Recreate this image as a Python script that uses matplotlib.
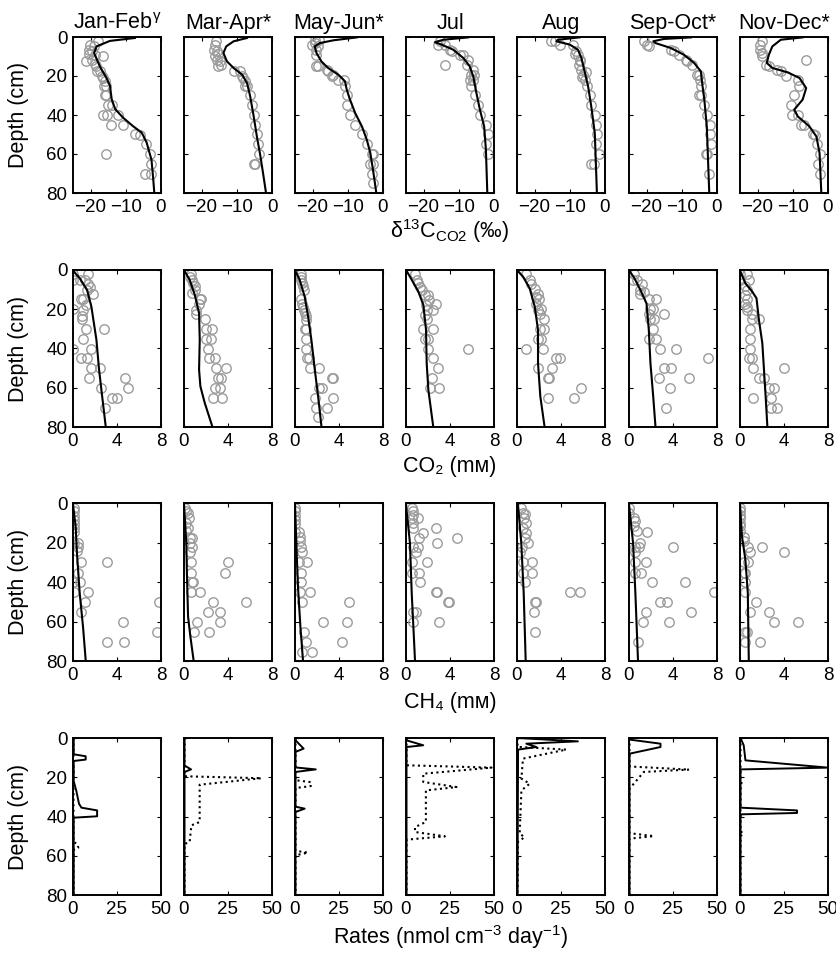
import numpy as np
import matplotlib
matplotlib.use("Agg")
import matplotlib.pyplot as plt

plt.rcParams['font.family'] = ['Liberation Sans', 'DejaVu Sans']
plt.rcParams['mathtext.fontset'] = 'custom'
plt.rcParams['mathtext.rm'] = 'Liberation Sans'
plt.rcParams['mathtext.it'] = 'Liberation Sans:italic'
plt.rcParams['mathtext.bf'] = 'Liberation Sans:bold'

months = [r"Jan-Feb$^{\mathrm{\gamma}}$", "Mar-Apr*", "May-Jun*", "Jul", "Aug", "Sep-Oct*", "Nov-Dec*"]

# ---- delta13C-CO2 (permil): observations and model, per month ----
d13c_obs_depth = [
    [2.2, 4.3, 4.4, 6.5, 7.4, 8.6, 9.1, 12.1, 11.6, 9.6, 13.9, 15.0, 17.3, 17.6, 19.8, 21.0, 22.7, 25.0, 25.3, 29.6, 29.6, 34.7, 34.7, 39.8, 39.8, 40.2, 45.0, 45.0, 49.8, 50.1, 54.9, 60.0, 65.2, 70.1, 70.1, 60.0],
    [2.2, 4.3, 6.8, 7.4, 9.6, 8.6, 11.6, 12.5, 14.2, 14.7, 17.3, 17.3, 19.8, 21.0, 22.7, 25.0, 25.0, 29.6, 34.7, 39.8, 45.0, 49.8, 54.9, 60.0, 65.2, 65.2],
    [1.7, 1.7, 4.3, 3.1, 4.8, 6.5, 9.1, 14.7, 15.0, 16.8, 17.3, 19.3, 20.2, 21.9, 21.9, 25.0, 29.6, 34.7, 39.8, 45.0, 49.8, 54.9, 60.0, 60.0, 65.2, 65.2, 70.1, 74.9],
    [2.2, 4.3, 4.3, 6.5, 7.4, 9.1, 9.1, 11.6, 14.5, 14.2, 16.8, 19.3, 19.3, 21.9, 21.9, 25.0, 29.6, 34.7, 39.8, 45.0, 49.8, 54.9, 60.0],
    [2.2, 2.2, 4.3, 4.3, 7.4, 9.1, 11.6, 14.2, 16.8, 19.3, 21.9, 25.0, 29.6, 34.7, 39.8, 45.0, 49.8, 54.9, 60.0, 65.2, 65.2, 8.5, 12.5, 18.0, 20.5],
    [2.2, 4.3, 4.8, 6.5, 7.4, 9.4, 11.6, 12.5, 14.2, 19.3, 19.3, 21.9, 25.0, 29.6, 29.6, 34.7, 39.8, 45.0, 49.8, 54.9, 60.0, 60.0, 70.1],
    [2.2, 4.3, 6.5, 8.2, 9.6, 14.2, 14.7, 16.8, 17.3, 19.8, 21.9, 25.0, 12.0, 29.6, 34.7, 39.8, 39.8, 45.0, 45.0, 49.8, 50.1, 54.9, 60.0, 65.2, 70.1],
]
d13c_obs_val = [
    [-17.9, -20.2, -19.0, -20.4, -19.6, -20.4, -18.8, -21.2, -19.5, -16.4, -18.8, -18.5, -18.1, -17.4, -16.9, -16.4, -16.0, -15.5, -16.3, -16.0, -15.5, -13.8, -15.0, -16.6, -15.3, -12.2, -14.1, -10.9, -7.4, -6.0, -4.3, -3.1, -2.8, -2.9, -4.6, -15.5],
    [-15.9, -16.2, -16.6, -15.7, -16.2, -15.2, -15.7, -14.7, -14.4, -15.2, -10.9, -9.0, -8.5, -8.3, -7.8, -7.6, -7.1, -6.2, -5.7, -5.2, -4.9, -4.3, -4.1, -3.8, -5.2, -4.7],
    [-19.4, -18.1, -20.3, -19.4, -18.4, -18.9, -18.9, -19.1, -18.4, -16.0, -15.6, -14.1, -14.6, -12.7, -11.0, -10.8, -10.3, -10.3, -9.5, -7.9, -6.0, -4.6, -3.2, -2.7, -3.8, -2.9, -3.2, -2.7],
    [-15.3, -15.8, -13.9, -12.5, -12.0, -9.7, -8.7, -7.3, -13.9, -7.8, -5.9, -6.4, -5.6, -6.9, -5.9, -6.4, -5.4, -4.5, -4.0, -2.3, -1.8, -2.3, -1.8],
    [-15.2, -14.3, -12.9, -9.1, -8.1, -7.7, -7.2, -7.4, -6.7, -6.2, -5.8, -5.0, -4.4, -3.9, -2.9, -2.5, -2.3, -2.6, -1.7, -3.9, -3.2, -8.5, -7.0, -5.5, -6.5],
    [-20.8, -19.8, -19.4, -13.2, -12.2, -10.8, -8.9, -8.4, -7.0, -5.7, -5.1, -4.8, -4.6, -5.1, -4.6, -3.8, -2.9, -1.9, -1.9, -1.7, -3.2, -2.9, -2.2],
    [-18.7, -19.2, -19.2, -18.7, -18.7, -17.7, -16.8, -14.4, -13.4, -12.0, -8.6, -8.1, -6.2, -9.6, -10.5, -10.1, -8.6, -7.7, -6.9, -4.3, -3.6, -3.1, -2.4, -2.7, -2.4],
]
d13c_fit_depth = [
    [0.5, 2, 4.8, 8.2, 15, 21, 25, 32, 37, 41.5, 45.8, 49, 54, 63, 73, 80],
    [0.5, 2.2, 4.8, 8.2, 12.5, 15.9, 19.3, 23.6, 30.4, 40.7, 51, 61, 71.5, 80],
    [0.2, 1.7, 3.1, 4.8, 8.2, 12.5, 15.9, 19.3, 22.7, 27, 32, 39, 45.8, 52.7, 59.5, 69.8, 80],
    [0.2, 1.4, 2.7, 3.9, 6.5, 10.8, 15, 20.2, 28.7, 37.3, 45.8, 57.8, 80],
    [0.2, 1.4, 2.2, 3.9, 6.5, 10.8, 17.6, 25.3, 35.6, 49.2, 80],
    [0.2, 1.0, 2.2, 3.1, 5.6, 9.1, 13.3, 17.6, 25.3, 32.1, 45.8, 80],
    [0.2, 1.4, 4.8, 9.1, 13.3, 15.9, 18.1, 21, 26.2, 32.1, 37.3, 40.7, 45.8, 51, 59.5, 80],
]
d13c_fit_val = [
    [-7.4, -14.5, -18.3, -19, -17.4, -15.5, -14.5, -14, -13, -10.7, -7.9, -5.5, -4.1, -2.7, -2.2, -1.9],
    [-7.1, -10.9, -13, -13.8, -12.8, -10.9, -8.5, -7.1, -6.2, -5.2, -4.3, -3.3, -2.4, -1.7],
    [-7.4, -14.1, -17.9, -19.4, -18.9, -17.5, -15.6, -12.7, -10.8, -10.3, -9.4, -7.9, -6.0, -4.6, -3.6, -2.7, -1.9],
    [-7.3, -14.4, -16.8, -14.9, -11.6, -8.7, -6.9, -5.9, -5.0, -4.0, -2.8, -2.3, -1.9],
    [-7.2, -13.4, -13.8, -10, -7.7, -6.7, -5.8, -4.8, -3.9, -2.9, -2.3],
    [-7.4, -15.1, -18.1, -17.5, -13.2, -9.4, -6.5, -4.6, -4.1, -3.6, -2.9, -2.2],
    [-7.2, -13.4, -15.8, -16.8, -17.4, -15.8, -11.5, -8.1, -6.2, -7.2, -9.6, -8.6, -5.3, -3.3, -2.4, -1.9],
]

# ---- CO2 (mM) ----
co2_obs_depth = [
    [2.2, 2.2, 5.1, 5.1, 5.1, 7.3, 8.5, 10.2, 12.4, 14.9, 14.9, 20.0, 17.8, 20.3, 23.4, 25.1, 30.2, 30.2, 35.1, 40.2, 40.2, 44.9, 44.9, 50.0, 50.0, 55.1, 55.1, 60.2, 60.2, 65.3, 65.3, 70.3],
    [2.2, 3.4, 5.1, 6.8, 8.1, 10.2, 11.9, 14.9, 14.9, 17.3, 20.3, 22.4, 25.1, 30.2, 30.2, 35.1, 35.1, 40.2, 44.9, 44.9, 50.0, 50.0, 55.1, 55.1, 60.2, 60.2, 65.3, 65.3],
    [2.2, 3.4, 5.1, 6.8, 8.1, 10.2, 14.9, 17.3, 18.6, 20.3, 21.7, 23.4, 25.4, 30.2, 30.2, 35.1, 40.2, 44.9, 44.9, 50.0, 50.0, 55.1, 55.1, 60.2, 60.2, 65.3, 65.3, 70.3, 70.3, 75.1],
    [2.2, 5.1, 6.8, 8.5, 10.2, 12.7, 12.7, 15.3, 17.3, 17.8, 20.3, 20.3, 22.9, 25.1, 30.2, 30.2, 35.1, 35.1, 40.2, 40.2, 44.9, 50.0, 55.1, 60.2, 60.2],
    [2.2, 5.1, 7.3, 9.8, 12.4, 13.6, 14.9, 17.3, 20.0, 20.3, 22.4, 25.1, 30.2, 30.2, 35.1, 35.1, 40.2, 40.2, 44.9, 44.9, 50.0, 50.0, 55.1, 55.1, 60.2, 65.3, 65.3],
    [2.2, 5.1, 5.1, 7.3, 10.2, 11.0, 12.4, 14.9, 14.9, 20.0, 20.0, 22.4, 22.4, 25.1, 25.1, 30.2, 35.1, 35.1, 40.2, 40.2, 44.9, 50.0, 50.0, 55.1, 55.1, 60.2, 70.3],
    [2.2, 2.2, 5.1, 5.1, 8.1, 10.2, 12.7, 14.9, 17.3, 18.6, 20.3, 22.4, 25.1, 25.1, 30.2, 35.1, 40.2, 44.9, 44.9, 50.0, 50.0, 55.1, 55.1, 60.2, 60.2, 65.3, 65.3, 70.3, 70.3],
]
co2_obs_val = [
    [1.37, 0.0, 0.0, 0.61, 1.06, 1.37, 1.52, 1.28, 1.82, 0.91, 0.76, 0.0, 1.22, 0.91, 0.85, 0.85, 1.22, 2.83, 0.91, 1.67, 0.0, 0.76, 1.28, 1.61, 2.43, 1.46, 4.71, 5.02, 2.52, 3.59, 4.01, 2.89],
    [0.67, 0.58, 0.76, 0.82, 0.98, 0.98, 0.76, 1.59, 1.43, 1.37, 1.07, 1.13, 1.89, 1.98, 2.56, 2.04, 2.50, 2.20, 2.29, 2.81, 2.90, 3.81, 3.11, 3.32, 2.81, 3.26, 2.65, 3.42],
    [0.58, 0.52, 0.58, 0.67, 0.73, 0.79, 0.58, 0.67, 0.73, 0.79, 0.88, 0.98, 0.98, 0.88, 1.04, 0.98, 0.98, 1.10, 1.28, 1.34, 2.20, 3.32, 3.48, 2.20, 2.41, 1.80, 3.42, 1.95, 2.93, 2.10],
    [0.82, 0.97, 1.12, 1.27, 1.42, 1.73, 2.03, 2.12, 2.73, 1.82, 1.94, 2.42, 1.73, 1.88, 1.58, 2.42, 1.73, 2.03, 2.03, 5.67, 2.48, 2.94, 2.33, 2.18, 3.03],
    [0.79, 1.21, 1.30, 1.61, 1.91, 1.76, 2.00, 1.70, 2.21, 1.91, 2.06, 2.42, 2.12, 2.42, 2.21, 1.91, 2.36, 0.85, 3.58, 3.88, 3.21, 1.91, 2.82, 2.91, 5.85, 2.82, 5.15],
    [0.49, 0.37, 0.73, 1.19, 0.98, 1.34, 1.04, 1.80, 2.41, 1.89, 2.20, 1.80, 3.17, 1.95, 2.26, 2.20, 1.80, 2.41, 2.81, 4.24, 7.14, 3.17, 3.78, 2.71, 5.46, 3.72, 3.32],
    [0.03, 0.64, 0.0, 0.80, 0.49, 0.64, 0.49, 0.64, 0.49, 0.64, 0.64, 1.11, 1.72, 1.11, 0.95, 0.89, 0.95, 0.80, 1.11, 1.20, 3.96, 1.72, 2.18, 2.64, 3.10, 1.20, 2.79, 2.79, 3.35],
]
co2_fit_depth = [
    [0.3, 4.2, 10.2, 18.6, 35.6, 50.8, 61, 80],
    [0, 5.1, 12.7, 22, 35.6, 50.8, 59.3, 67.8, 80],
    [0, 5.1, 13.6, 23.7, 35.6, 50.8, 64.4, 80],
    [0, 3.4, 11, 17.8, 30.5, 47.5, 61, 80],
    [0, 3.4, 9.3, 18.6, 30.5, 47.5, 64.4, 80],
    [0, 4.2, 10.2, 17, 30.5, 47.5, 64.4, 80],
    [0.3, 6.8, 11, 14.4, 25.4, 37.3, 50.8, 64.4, 80],
]
co2_fit_val = [
    [0, 0.61, 1.28, 1.67, 2.13, 2.37, 2.58, 2.98],
    [0, 0.52, 0.98, 1.37, 1.43, 1.37, 1.49, 1.89, 2.59],
    [0, 0.43, 0.88, 1.19, 1.49, 1.80, 2.10, 2.41],
    [0, 0.36, 1.12, 1.58, 1.82, 1.88, 2.03, 2.48],
    [0, 0.55, 1.15, 1.61, 1.91, 1.91, 2.12, 2.51],
    [0, 0.49, 1.04, 1.59, 1.80, 1.95, 2.20, 2.41],
    [0, 0.49, 1.11, 1.50, 1.72, 2.03, 2.18, 2.33, 2.49],
]

# ---- CH4 (mM) ----
ch4_obs_depth = [
    [2.5, 4.2, 6.4, 8.5, 10.5, 12.7, 14.9, 20.0, 20.0, 22.3, 24.5, 30.1, 30.1, 35.2, 40.2, 40.2, 45.3, 45.3, 50.2, 55.3, 50.2, 60.0, 65.1, 70.2, 70.2],
    [2.5, 4.2, 5.1, 7.6, 10.1, 14.4, 12.7, 17.8, 17.8, 20.3, 22.3, 25.0, 30.1, 35.2, 40.2, 40.2, 45.3, 45.3, 30.1, 35.2, 50.2, 50.2, 55.3, 55.3, 60.0, 60.0, 65.1, 65.1],
    [2.5, 4.2, 6.4, 8.5, 10.5, 14.9, 14.9, 17.2, 19.4, 22.3, 25.0, 30.1, 30.1, 35.2, 40.2, 45.3, 45.3, 50.2, 60.0, 60.0, 50.2, 65.1, 70.2, 75.3, 75.3, 70.2],
    [2.5, 4.2, 5.9, 7.6, 7.6, 10.1, 12.7, 12.7, 15.2, 17.8, 20.0, 17.8, 22.3, 22.3, 25.0, 30.1, 30.1, 35.2, 35.2, 40.2, 45.3, 45.3, 50.2, 50.2, 55.3, 55.3, 60.0, 60.0],
    [2.5, 5.1, 5.4, 7.6, 10.1, 12.7, 15.2, 17.8, 20.0, 22.3, 25.0, 30.1, 30.1, 35.2, 35.2, 40.2, 45.3, 45.3, 50.2, 50.2, 55.3, 65.1],
    [2.5, 5.1, 7.6, 9.3, 11.8, 14.4, 14.9, 20.0, 22.3, 22.3, 22.3, 25.0, 30.1, 30.1, 35.2, 35.2, 40.2, 40.2, 45.3, 50.2, 50.2, 55.3, 55.3, 60.0, 60.0, 70.2],
    [2.5, 4.2, 5.9, 7.6, 10.1, 11.8, 14.4, 17.2, 19.4, 22.3, 25.0, 22.3, 25.0, 30.1, 30.1, 35.2, 35.2, 40.2, 45.3, 50.2, 55.3, 55.3, 60.0, 60.0, 65.1, 65.1, 70.2, 70.2],
]
ch4_obs_val = [
    [0.06, 0.06, 0.06, 0.06, 0.06, 0.06, 0.06, 0.06, 0.46, 0.46, 0.36, 0.76, 3.10, 0.46, 0.0, 0.67, 0.06, 1.37, 1.06, 0.76, 7.81, 4.56, 7.60, 3.10, 4.65],
    [0.06, 0.15, 0.37, 0.46, 0.21, 0.15, 0.37, 0.58, 0.76, 0.52, 0.76, 0.58, 0.67, 0.67, 0.76, 0.82, 0.67, 1.43, 4.03, 3.72, 2.65, 5.64, 2.20, 3.26, 1.22, 3.26, 0.92, 2.29],
    [0.02, 0.02, 0.02, 0.02, 0.02, 0.02, 0.37, 0.43, 0.49, 0.58, 0.67, 0.37, 1.10, 0.58, 0.58, 0.43, 1.34, 0.67, 2.56, 4.70, 4.94, 0.79, 1.04, 0.67, 1.59, 4.30],
    [0.52, 0.61, 0.67, 0.52, 1.12, 0.61, 0.67, 2.73, 1.58, 1.21, 2.79, 4.61, 0.67, 1.12, 0.91, 1.88, 0.52, 1.21, 0.52, 1.27, 2.73, 2.79, 3.85, 3.94, 0.61, 0.91, 0.61, 3.03],
    [0.39, 0.55, 0.70, 0.61, 0.79, 0.55, 0.85, 0.70, 1.00, 0.48, 0.24, 0.55, 1.39, 0.55, 1.39, 0.70, 4.79, 5.70, 1.61, 1.76, 1.52, 1.61],
    [0.0, 0.0, 0.49, 0.58, 0.43, 0.73, 1.65, 0.98, 0.58, 0.88, 4.03, 0.58, 0.58, 1.59, 0.58, 1.10, 2.10, 5.06, 7.75, 2.81, 3.42, 1.59, 5.61, 1.25, 3.66, 0.79],
    [0.03, 0.03, 0.03, 0.03, 0.03, 0.03, 0.03, 0.34, 0.40, 0.71, 0.95, 2.03, 3.96, 0.34, 0.71, 0.34, 0.49, 0.49, 0.43, 1.41, 0.89, 2.64, 3.10, 5.25, 0.49, 0.64, 0.49, 1.81],
]
ch4_fit_depth = [
    [0.8, 11.8, 25.4, 45.7, 62.6, 80],
    [0.8, 20.3, 37.2, 57.5, 67.6, 80],
    [0.8, 20.3, 42.3, 62.6, 80],
    [0.8, 20.3, 45.7, 62.6, 80],
    [0.8, 20.3, 45.7, 80],
    [0.8, 20.3, 45.7, 80],
    [0.8, 16.9, 28.7, 45.7, 80],
]
ch4_fit_val = [
    [0, 0.24, 0.36, 0.61, 0.91, 1.16],
    [0, 0.21, 0.27, 0.37, 0.58, 0.88],
    [0, 0.12, 0.27, 0.49, 0.73],
    [0, 0.36, 0.52, 0.67, 0.82],
    [0.09, 0.39, 0.61, 0.79],
    [0, 0.37, 0.58, 0.82],
    [0, 0.18, 0.49, 0.71, 0.80],
]

# ---- rates (nmol cm-3 day-1): solid and dotted profiles ----
rate_solid_depth = [
    [0, 8.3, 9.3, 11, 11.7, 22, 27, 33.5, 35.5, 36.9, 39.9, 40.6, 80],
    [0, 14, 16, 17.3, 80],
    [0, 1.2, 5.4, 7.1, 15, 16, 17.3, 35, 36, 37.7, 80],
    [0, 1.2, 3.7, 4.6, 80],
    [0, 1.7, 2.9, 4.6, 5.9, 80],
    [0, 0.8, 2.9, 4.6, 8, 80],
    [0, 3.7, 11.4, 15.1, 16, 35.5, 36.9, 38.2, 38.9, 80],
]
rate_solid_val = [
    [0.4, 0.4, 7.2, 7.2, 0.4, 0.4, 1.9, 3.4, 4.8, 13.7, 13.7, 0.4, 0.4],
    [0.3, 0.3, 4, 0.3, 0.3],
    [0.3, 0.3, 4.9, 0.3, 0.3, 11.8, 0.3, 0.3, 5.5, 0.3, 0.3],
    [0.3, 0.3, 9.8, 0.3, 0.3],
    [0.3, 34.6, 5.3, 11, 0.6, 0.3],
    [0.3, 0.3, 17.9, 17.9, 0.3, 0.3],
    [0.3, 2.1, 3.1, 50, 0.3, 0.3, 32.4, 32.4, 0.3, 0.3],
]
rate_dot_depth = [
    [0, 53, 54, 56, 57, 80],
    [0, 19.5, 20.5, 23.8, 42.8, 44.5, 53, 54, 80],
    [0, 21.5, 22.5, 24.5, 25.5, 57.5, 58.4, 59.8, 80],
    [0, 13.9, 15.1, 18.2, 22.4, 25, 26.7, 42.8, 45.4, 47.9, 50.1, 51.8, 80],
    [0, 4.5, 5.9, 10.5, 20.7, 23.3, 26.7, 48.8, 50.5, 53, 80],
    [0, 14.5, 16.1, 17.3, 23.3, 25.8, 48.5, 50, 51.3, 80],
    [0, 20, 21, 25, 26, 47.5, 48.8, 50, 80],
]
rate_dot_val = [
    [0.3, 0.3, 2.5, 3, 0.3, 0.3],
    [0.3, 0.3, 44, 8.9, 8.9, 4.2, 3.2, 0.3, 0.3],
    [0.3, 0.3, 9, 9, 0.3, 0.3, 7.4, 0.3, 0.3],
    [0.3, 0.3, 48.6, 9.8, 9.8, 28.7, 11.3, 11.3, 5.1, 5.1, 22.1, 0.3, 0.3],
    [0.3, 0.3, 28, 3.4, 2.5, 7.2, 2.5, 1.5, 4.3, 0.5, 0.3],
    [0.3, 0.3, 34.2, 8.4, 2.7, 0.3, 0.3, 14.1, 0.3, 0.3],
    [0.3, 0.3, 0.8, 0.8, 0.3, 0.3, 2, 0.3, 0.3],
]

row_xlim = [(-25, 0), (0, 8), (0, 8), (0, 50)]
row_xticks = [[-20, -10, 0], [0, 4, 8], [0, 4, 8], [0, 25, 50]]
row_labels = [r"δ$^{13}$C$_{\mathrm{CO2}}$ (‰)", "CO₂ (mᴍ)", "CH₄ (mᴍ)",
              r"Rates (nmol cm$^{-3}$ day$^{-1}$)"]

W, H = 837, 955
fig = plt.figure(figsize=(W / 100, H / 100), dpi=100)

col_left = [73, 184, 295, 406, 517, 629, 740]
col_w = 88
row_box = [(37, 193), (270, 427), (503, 661), (738, 895)]
label_y = [238, 472, 708, 944]

obs_style = dict(ls='none', marker='o', ms=6.8, mfc='none', mec='#9b9b9b', mew=1.0)

for r in range(4):
    top, bot = row_box[r]
    for c in range(7):
        ax = fig.add_axes([col_left[c] / W, 1 - bot / H, col_w / W, (bot - top) / H])
        if r == 0:
            ax.plot(d13c_obs_val[c], d13c_obs_depth[c], **obs_style)
            ax.plot(d13c_fit_val[c], d13c_fit_depth[c], 'k-', lw=1.5)
        elif r == 1:
            ax.plot(co2_obs_val[c], co2_obs_depth[c], **obs_style)
            ax.plot(co2_fit_val[c], co2_fit_depth[c], 'k-', lw=1.5)
        elif r == 2:
            ax.plot(ch4_obs_val[c], ch4_obs_depth[c], **obs_style)
            ax.plot(ch4_fit_val[c], ch4_fit_depth[c], 'k-', lw=1.5)
        else:
            ax.plot(rate_dot_val[c], rate_dot_depth[c], 'k:', lw=1.5)
            ax.plot(rate_solid_val[c], rate_solid_depth[c], 'k-', lw=1.4)
        ax.set_xlim(*row_xlim[r])
        ax.set_ylim(80, 0)
        ax.set_xticks(row_xticks[r])
        ax.set_yticks([0, 20, 40, 60, 80])
        ax.tick_params(direction='in', top=True, right=True, length=3, width=0.8,
                       labelsize=13.5, pad=4)
        if c > 0:
            ax.tick_params(labelleft=False)
        for s in ax.spines.values():
            s.set_linewidth(1.4)
        if r == 0:
            fig.text((col_left[c] + col_w / 2) / W, 1 - 29 / H, months[c],
                     ha='center', va='baseline', fontsize=15.5)
    fig.text(19 / W, 1 - (top + bot) / 2 / H, "Depth (cm)", rotation=90,
             ha='center', va='center', fontsize=15.5)
    fig.text(450 / W, 1 - label_y[r] / H, row_labels[r], ha='center', va='baseline',
             fontsize=15.5)

fig.savefig("out.png", dpi=100)
